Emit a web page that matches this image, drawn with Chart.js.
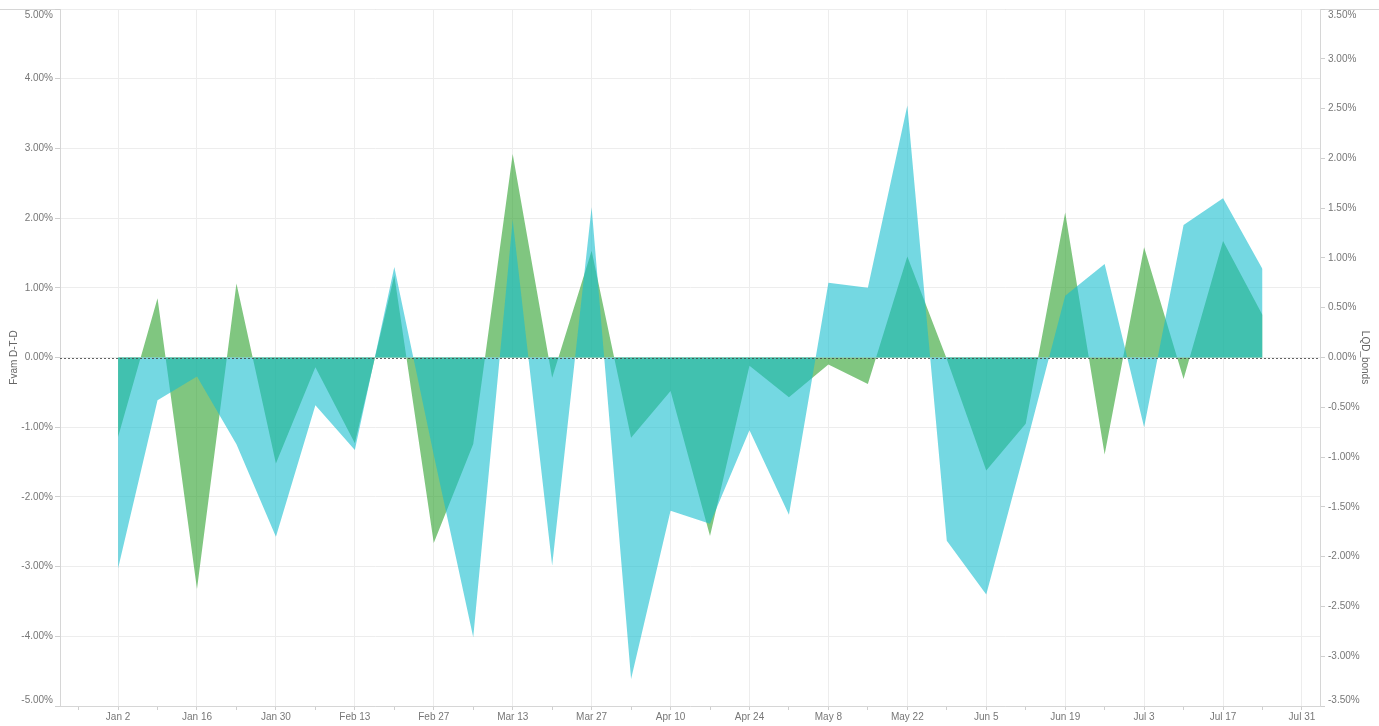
<!DOCTYPE html>
<html>
<head>
<meta charset="utf-8">
<script src="https://cdn.jsdelivr.net/npm/chart.js@4/dist/chart.umd.min.js"></script>
<style>
  html, body { margin: 0; padding: 0; background: #fff; }
  #wrap { width: 1379px; height: 726px; position: relative; }
</style>
</head>
<body>
<div id="wrap"><canvas id="chart"></canvas></div>
<script>
// weekly dates (Mondays)
const weekDates = [
  "2017-01-02", "2017-01-09", "2017-01-16", "2017-01-23", "2017-01-30",
  "2017-02-06", "2017-02-13", "2017-02-20", "2017-02-27", "2017-03-06",
  "2017-03-13", "2017-03-20", "2017-03-27", "2017-04-03", "2017-04-10",
  "2017-04-17", "2017-04-24", "2017-05-01", "2017-05-08", "2017-05-15",
  "2017-05-22", "2017-05-29", "2017-06-05", "2017-06-12", "2017-06-19",
  "2017-06-26", "2017-07-03", "2017-07-10", "2017-07-17", "2017-07-24"
];
// Fvam D-T-D, left axis (%)
const fvamValues = [
  -1.14, 0.85, -3.32, 1.06, -1.52, -0.14, -1.23, 1.18, -2.66, -1.24,
  2.92, -0.29, 1.53, -1.15, -0.48, -2.56, -0.12, -0.57, -0.10, -0.38,
  1.45, -0.02, -1.62, -0.95, 2.08, -1.39, 1.58, -0.31, 1.67, 0.61
];
// LQD_bonds, right axis (%)
const lqdValues = [
  -2.12, -0.43, -0.19, -0.87, -1.80, -0.48, -0.93, 0.91, -0.98, -2.81,
  1.38, -2.09, 1.51, -3.23, -1.54, -1.67, -0.73, -1.58, 0.75, 0.70,
  2.53, -1.84, -2.38, -0.90, 0.62, 0.94, -0.70, 1.33, 1.60, 0.89
];
const tickDates = [
  "2017-01-02", "2017-01-16", "2017-01-30", "2017-02-13", "2017-02-27",
  "2017-03-13", "2017-03-27", "2017-04-10", "2017-04-24", "2017-05-08",
  "2017-05-22", "2017-06-05", "2017-06-19", "2017-07-03", "2017-07-17",
  "2017-07-31"
];
const tickLabels = [
  "Jan 2", "Jan 16", "Jan 30", "Feb 13", "Feb 27", "Mar 13", "Mar 27",
  "Apr 10", "Apr 24", "May 8", "May 22", "Jun 5", "Jun 19", "Jul 3",
  "Jul 17", "Jul 31"
];

const DAY = 86400000;
function dayOf(d) {
  return (Date.parse(d) - Date.parse(weekDates[0])) / DAY;
}
const tickDays = tickDates.map(dayOf);

const labelFont = { family: "'Liberation Sans', Arial, sans-serif", size: 10 };
const labelColor = "#777";
const gridColor = "#ededed";
const edgeColor = "#d6d6d6";

// percent labels; the end labels are nudged inside the plot
function pctLabel(v, lo, hi) {
  const s = v.toFixed(2) + "%";
  if (Math.abs(v - hi) < 1e-9) return ["", s];
  if (Math.abs(v - lo) < 1e-9) return [s, ""];
  return s;
}

const guideLines = {
  id: "guideLines",
  beforeDraw(chart) {
    const { ctx, chartArea } = chart;
    ctx.save();
    ctx.strokeStyle = edgeColor;
    ctx.lineWidth = 1;
    ctx.beginPath();
    ctx.moveTo(0, Math.round(chartArea.top) + 0.5);
    ctx.lineTo(chart.width, Math.round(chartArea.top) + 0.5);
    ctx.stroke();
    ctx.restore();
  },
  afterDatasetsDraw(chart) {
    const { ctx, chartArea, scales } = chart;
    const y0 = Math.round(scales.yL.getPixelForValue(0)) + 0.5;
    ctx.save();
    ctx.strokeStyle = "rgba(70,70,70,0.85)";
    ctx.lineWidth = 1;
    ctx.setLineDash([2, 2]);
    ctx.beginPath();
    ctx.moveTo(chartArea.left, y0);
    ctx.lineTo(chartArea.right, y0);
    ctx.stroke();
    ctx.restore();
  }
};

const ctx = document.getElementById("chart").getContext("2d");
new Chart(ctx, {
  type: "line",
  data: {
    datasets: [
      {
        label: "LQD_bonds",
        data: weekDates.map((d, i) => ({ x: dayOf(d), y: lqdValues[i] })),
        yAxisID: "yR",
        backgroundColor: "rgba(23,190,207,0.6)",
        borderColor: "rgba(0,0,0,0)",
        borderWidth: 0,
        fill: "origin",
        pointRadius: 0,
        tension: 0
      },
      {
        label: "Fvam D-T-D",
        data: weekDates.map((d, i) => ({ x: dayOf(d), y: fvamValues[i] })),
        yAxisID: "yL",
        backgroundColor: "rgba(44,160,44,0.6)",
        borderColor: "rgba(0,0,0,0)",
        borderWidth: 0,
        fill: "origin",
        pointRadius: 0,
        tension: 0
      }
    ]
  },
  options: {
    responsive: true,
    maintainAspectRatio: false,
    animation: false,
    layout: { padding: { top: 9, left: 0, right: 0, bottom: 0 } },
    plugins: {
      legend: { display: false },
      tooltip: { enabled: false }
    },
    scales: {
      x: {
        type: "linear",
        min: -10.3,
        max: 213.2,
        afterBuildTicks: (axis) => {
          const t = [];
          for (let d = -7; d <= axis.max; d += 7) t.push({ value: d });
          axis.ticks = t;
        },
        ticks: {
          autoSkip: false,
          maxRotation: 0,
          padding: 1,
          font: labelFont,
          color: labelColor,
          callback: (v) => {
            const idx = tickDays.indexOf(v);
            return idx >= 0 ? tickLabels[idx] : "";
          }
        },
        grid: {
          color: (c) => (c.tick && tickDays.includes(c.tick.value) ? gridColor : "rgba(0,0,0,0)"),
          tickColor: "#cfcfcf",
          tickLength: 4
        },
        border: { color: edgeColor },
        afterFit: (s) => {
          s.height = 20;
          s.paddingLeft = 0;
          s.paddingRight = 0;
        }
      },
      yL: {
        position: "left",
        min: -5,
        max: 5,
        ticks: {
          stepSize: 1,
          padding: 2,
          font: labelFont,
          color: labelColor,
          callback: (v) => pctLabel(v, -5, 5)
        },
        grid: { color: gridColor, tickColor: "#cfcfcf", tickLength: 5 },
        border: { color: edgeColor },
        title: {
          display: true,
          text: "Fvam D-T-D",
          color: "#666",
          font: labelFont,
          padding: { top: 8, bottom: 0 }
        },
        afterFit: (s) => {
          s.width = 60;
          s.paddingTop = 0;
          s.paddingBottom = 0;
        }
      },
      yR: {
        position: "right",
        min: -3.5,
        max: 3.5,
        ticks: {
          stepSize: 0.5,
          padding: 3,
          font: labelFont,
          color: labelColor,
          callback: (v) => pctLabel(v, -3.5, 3.5)
        },
        grid: { drawOnChartArea: false, tickColor: "#cfcfcf", tickLength: 5 },
        border: { color: edgeColor },
        title: {
          display: true,
          text: "LQD_bonds",
          color: "#666",
          font: labelFont,
          padding: { top: 8, bottom: 0 }
        },
        afterFit: (s) => {
          s.width = 59;
          s.paddingTop = 0;
          s.paddingBottom = 0;
        }
      }
    }
  },
  plugins: [guideLines]
});
</script>
</body>
</html>
